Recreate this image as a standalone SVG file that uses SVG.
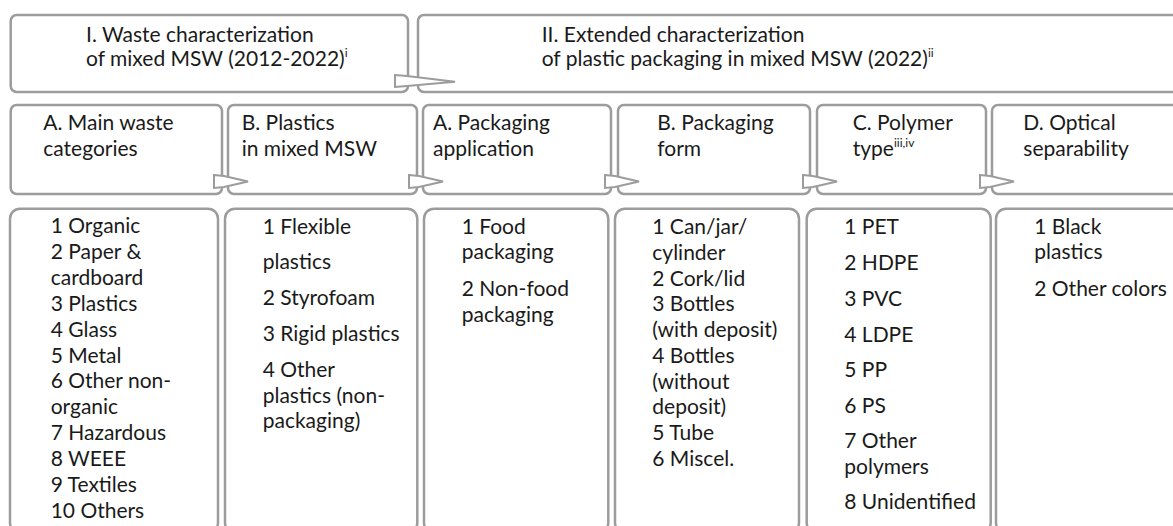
<svg xmlns="http://www.w3.org/2000/svg" width="1173" height="526" viewBox="0 0 1173 526">
<style>
  .box { fill: #ffffff; stroke: #9c9c9c; stroke-width: 2.5; }
  .arrow { fill: #ffffff; stroke: #9c9c9c; stroke-width: 2; stroke-linejoin: miter; }
  text { font-family: Lato, "Open Sans", sans-serif; font-size: 21px; fill: #1a1a1a; }
  .sup { font-size: 12px; }
</style>
<rect width="1173" height="526" fill="#ffffff"/>

<g id="node-I">
  <rect class="box" x="10.7" y="15" width="397.3" height="77" rx="6"/>
  <text><tspan x="86" y="41.5">I. Waste characterization</tspan><tspan x="86" y="65.5">of mixed MSW (2012-2022)</tspan><tspan class="sup" dy="-9">i</tspan></text>
</g>
<g id="node-II">
  <rect class="box" x="418" y="15" width="775" height="77" rx="6"/>
  <text><tspan x="541.7" y="41.5">II. Extended characterization</tspan><tspan x="541.7" y="65.5">of plastic packaging in mixed MSW (2022)</tspan><tspan class="sup" dy="-9">ii</tspan></text>
</g>

<g id="node-IA">
  <rect class="box" x="10.7" y="105" width="211.3" height="89" rx="6"/>
  <text><tspan x="43.3" y="130">A. Main waste</tspan><tspan x="43.3" y="155.5">categories</tspan></text>
</g>
<g id="node-IB">
  <rect class="box" x="228" y="105" width="189" height="89" rx="6"/>
  <text><tspan x="241.7" y="130">B. Plastics</tspan><tspan x="241.7" y="155.5">in mixed MSW</tspan></text>
</g>
<g id="node-IIA">
  <rect class="box" x="423" y="105" width="188" height="89" rx="6"/>
  <text><tspan x="433" y="130">A. Packaging</tspan><tspan x="433" y="155.5">application</tspan></text>
</g>
<g id="node-IIB">
  <rect class="box" x="618" y="105" width="192" height="89" rx="6"/>
  <text><tspan x="657.3" y="130">B. Packaging</tspan><tspan x="657.3" y="155.5">form</tspan></text>
</g>
<g id="node-IIC">
  <rect class="box" x="817" y="105" width="169" height="89" rx="6"/>
  <text><tspan x="852.7" y="130">C. Polymer</tspan><tspan x="852.7" y="155.5">type</tspan><tspan class="sup" dy="-9">iii,iv</tspan></text>
</g>
<g id="node-IID">
  <rect class="box" x="992" y="105" width="200" height="89" rx="6"/>
  <text><tspan x="1023.3" y="130">D. Optical</tspan><tspan x="1023.3" y="155.5">separability</tspan></text>
</g>

<g id="list-IA">
  <rect class="box" x="10" y="208.7" width="208" height="324" rx="10"/>
  <text>
    <tspan x="50.7" y="233.3">1 Organic</tspan>
    <tspan x="50.7" y="259.2">2 Paper &amp;</tspan>
    <tspan x="50.7" y="285">cardboard</tspan>
    <tspan x="50.7" y="310.9">3 Plastics</tspan>
    <tspan x="50.7" y="336.7">4 Glass</tspan>
    <tspan x="50.7" y="362.6">5 Metal</tspan>
    <tspan x="50.7" y="388.4">6 Other non-</tspan>
    <tspan x="50.7" y="414.3">organic</tspan>
    <tspan x="50.7" y="440.1">7 Hazardous</tspan>
    <tspan x="50.7" y="466">8 WEEE</tspan>
    <tspan x="50.7" y="491.8">9 Textiles</tspan>
    <tspan x="50.7" y="517.7">10 Others</tspan>
  </text>
</g>
<g id="list-IB">
  <rect class="box" x="225" y="208.7" width="192.3" height="324" rx="10"/>
  <text>
    <tspan x="262.7" y="234.3">1 Flexible</tspan>
    <tspan x="262.7" y="269.3">plastics</tspan>
    <tspan x="262.7" y="305.3">2 Styrofoam</tspan>
    <tspan x="262.7" y="341">3 Rigid plastics</tspan>
    <tspan x="262.7" y="377">4 Other</tspan>
    <tspan x="262.7" y="402.7">plastics (non-</tspan>
    <tspan x="262.7" y="428.3">packaging)</tspan>
  </text>
</g>
<g id="list-IIA">
  <rect class="box" x="424" y="208.7" width="184.3" height="324" rx="10"/>
  <text>
    <tspan x="461.7" y="234.3">1 Food</tspan>
    <tspan x="461.7" y="259.3">packaging</tspan>
    <tspan x="461.7" y="296">2 Non-food</tspan>
    <tspan x="461.7" y="322">packaging</tspan>
  </text>
</g>
<g id="list-IIB">
  <rect class="box" x="615" y="208.7" width="184" height="324" rx="10"/>
  <text>
    <tspan x="652.3" y="234.3">1 Can/jar/</tspan>
    <tspan x="652.3" y="260">cylinder</tspan>
    <tspan x="652.3" y="285.7">2 Cork/lid</tspan>
    <tspan x="652.3" y="311.4">3 Bottles</tspan>
    <tspan x="652.3" y="337.1">(with deposit)</tspan>
    <tspan x="652.3" y="362.8">4 Bottles</tspan>
    <tspan x="652.3" y="388.5">(without</tspan>
    <tspan x="652.3" y="414.2">deposit)</tspan>
    <tspan x="652.3" y="439.9">5 Tube</tspan>
    <tspan x="652.3" y="465.6">6 Miscel.</tspan>
  </text>
</g>
<g id="list-IIC">
  <rect class="box" x="806.7" y="208.7" width="184" height="324" rx="10"/>
  <text>
    <tspan x="844.3" y="234.3">1 PET</tspan>
    <tspan x="844.3" y="270">2 HDPE</tspan>
    <tspan x="844.3" y="306">3 PVC</tspan>
    <tspan x="844.3" y="341.7">4 LDPE</tspan>
    <tspan x="844.3" y="377">5 PP</tspan>
    <tspan x="844.3" y="412.7">6 PS</tspan>
    <tspan x="844.3" y="448.3">7 Other</tspan>
    <tspan x="844.3" y="473.7">polymers</tspan>
    <tspan x="844.3" y="509.3">8 Unidentified</tspan>
  </text>
</g>
<g id="list-IID">
  <rect class="box" x="996" y="208.7" width="200" height="324" rx="10"/>
  <text>
    <tspan x="1034.3" y="234.3">1 Black</tspan>
    <tspan x="1034.3" y="259.3">plastics</tspan>
    <tspan x="1034.3" y="296">2 Other colors</tspan>
  </text>
</g>

<g id="connectors">
  <polygon class="arrow" points="395,75 407,76 455,81.7 407,86 395,87"/>
  <polygon class="arrow" points="214,175 224,176 248,181.5 224,187 214,188"/>
  <polygon class="arrow" points="409,175 419,176 443,181.5 419,187 409,188"/>
  <polygon class="arrow" points="605,175 615,176 639,181.5 615,187 605,188"/>
  <polygon class="arrow" points="803,175 813,176 837,181.5 813,187 803,188"/>
  <polygon class="arrow" points="980,175 990,176 1014,181.5 990,187 980,188"/>
</g>
</svg>
